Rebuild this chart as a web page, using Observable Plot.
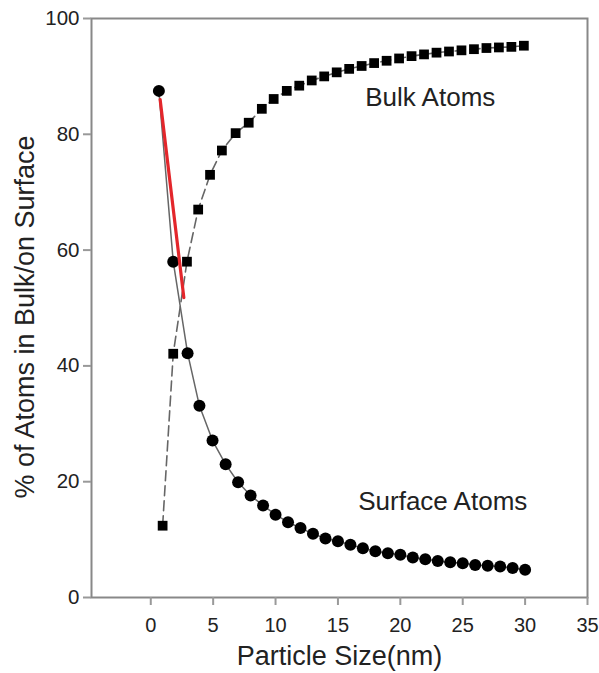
<!DOCTYPE html>
<html>
<head>
<meta charset="utf-8">
<script src="https://cdn.jsdelivr.net/npm/d3@7"></script>
<script src="https://cdn.jsdelivr.net/npm/@observablehq/plot@0.6"></script>
<style>
  html, body { margin: 0; padding: 0; background: #fff; }
  #chart { width: 599px; height: 673px; }
</style>
</head>
<body>
<div id="chart"></div>
<script>
// Surface atoms (circles, solid line)
const surfaceX = [0.65, 1.8, 2.95, 3.9, 4.95, 6, 7, 8, 9, 10, 11, 12, 13, 14, 15, 16, 17, 18, 19, 20, 21, 22, 23, 24, 25, 26, 27, 28, 29, 30];
const surfaceY = [87.5, 58, 42.2, 33.1, 27.1, 23, 19.9, 17.6, 15.9, 14.3, 13.0, 12.0, 11.0, 10.2, 9.7, 9.1, 8.5, 8.0, 7.65, 7.4, 6.9, 6.6, 6.3, 6.1, 5.9, 5.6, 5.5, 5.35, 5.1, 4.8];
// Bulk atoms (squares, dashed line)
const bulkX = [0.95, 1.8, 2.9, 3.8, 4.75, 5.7, 6.8, 7.85, 8.9, 9.85, 10.9, 11.9, 12.9, 13.9, 14.9, 15.9, 16.9, 17.9, 18.9, 19.9, 20.9, 21.9, 22.9, 23.9, 24.9, 25.9, 26.9, 27.9, 28.9, 29.9];
const bulkY = [12.4, 42.1, 58, 67, 73, 77.2, 80.2, 82.0, 84.4, 86.1, 87.5, 88.4, 89.3, 90.0, 90.7, 91.3, 91.8, 92.3, 92.7, 93.1, 93.5, 93.8, 94.1, 94.3, 94.5, 94.7, 94.9, 95.0, 95.1, 95.3];
// Red annotation line
const redX = [0.75, 2.65];
const redY = [86, 51.8];
// Ticks and labels
const xTicks = [0, 5, 10, 15, 20, 25, 30, 35];
const yTicks = [0, 20, 40, 60, 80, 100];
const xLabel = "Particle Size(nm)";
const yLabel = "% of Atoms in Bulk/on Surface";
const annotations = [
  {x: 22.4, y: 86.4, text: "Bulk Atoms"},
  {x: 23.4, y: 16.6, text: "Surface Atoms"}
];

const surface = surfaceX.map((x, i) => ({x, y: surfaceY[i]}));
const bulk = bulkX.map((x, i) => ({x, y: bulkY[i]}));
const red = redX.map((x, i) => ({x, y: redY[i]}));

const font = "'Liberation Sans', Arial, Helvetica, sans-serif";

const plot = Plot.plot({
  width: 599,
  height: 673,
  marginLeft: 91,
  marginRight: 12,
  marginTop: 18,
  marginBottom: 76,
  style: {fontFamily: font, background: "#fff", color: "#222"},
  x: {domain: [-4.75, 35]},
  y: {domain: [0, 100]},
  marks: [
    Plot.frame({stroke: "#888", strokeWidth: 2}),
    Plot.axisX({ticks: xTicks, tickSize: 8, tickPadding: 12, fontSize: 20, stroke: "#999", strokeWidth: 2, fill: "#222", label: null}),
    Plot.axisY({ticks: yTicks, tickSize: 8, tickPadding: 4, fontSize: 20.5, stroke: "#999", strokeWidth: 2, fill: "#222", label: null}),
    Plot.text([xLabel], {frameAnchor: "bottom", text: d => d, dy: 67, fontSize: 27, fill: "#222"}),
    Plot.text([yLabel], {frameAnchor: "left", textAnchor: "middle", text: d => d, rotate: -90, dx: -66, dy: 9, fontSize: 27, fill: "#222"}),
    Plot.line(surface, {x: "x", y: "y", stroke: "#666", strokeWidth: 1.5}),
    Plot.line(bulk, {x: "x", y: "y", stroke: "#666", strokeWidth: 1.6, strokeDasharray: "10,5"}),
    Plot.dot(surface, {x: "x", y: "y", r: 6, fill: "#000", stroke: "none"}),
    Plot.dot(bulk, {x: "x", y: "y", r: 5.5, symbol: "square", fill: "#000", stroke: "none"}),
    Plot.line(red, {x: "x", y: "y", stroke: "#e3262b", strokeWidth: 3.2}),
    Plot.text(annotations, {x: "x", y: "y", text: "text", fontSize: 26, fill: "#222"})
  ]
});
document.getElementById("chart").appendChild(plot);
</script>
</body>
</html>
